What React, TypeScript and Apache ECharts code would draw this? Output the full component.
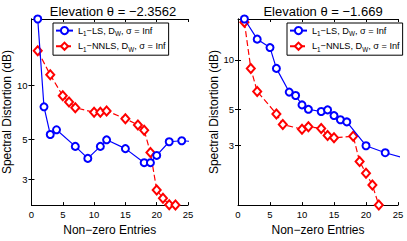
import React, { useEffect, useRef } from "react";
import * as echarts from "echarts";

// ---- Data (values in dB) ----
const titles = ["Elevation θ = −2.3562", "Elevation θ = −1.669"];
const seriesNames = ["L1-LS, DW, σ = Inf", "L1-NNLS, DW, σ = Inf"];

const leftLSx = [1, 2, 3, 4, 7, 9, 11, 12, 15, 18, 19, 20, 22, 24, 26];
const leftLSy = [23.3, 7.57, 5.31, 5.64, 4.56, 3.91, 4.56, 4.96, 4.43, 3.7, 3.7, 4.06, 4.84, 4.9, 4.85];
const leftNNx = [1, 3, 5, 6, 7, 10, 11, 12, 15, 17, 18, 19, 20, 21, 22, 23];
const leftNNy = [15.5, 11.4, 8.71, 8.05, 7.48, 7.05, 7.05, 7.18, 6.5, 6.0, 5.6, 4.22, 2.61, 2.35, 2.16, 2.15];

const rightLSx = [1, 3, 5, 6, 8, 9, 10, 11, 13, 14, 15, 16, 17, 20, 23, 26];
const rightLSy = [17.8, 13.4, 11.9, 8.87, 6.35, 6.05, 5.3, 4.98, 4.83, 4.94, 4.56, 4.3, 4.17, 2.98, 2.7, 2.5];
const rightNNx = [1, 2, 3, 6, 7, 10, 11, 13, 14, 15, 18, 19, 20, 21, 22];
const rightNNy = [17.0, 8.87, 6.41, 4.67, 4.02, 3.76, 3.9, 3.8, 3.44, 3.33, 3.41, 2.39, 2.02, 1.71, 1.29];

const xTicks = [0, 5, 10, 15, 20, 25];
const yTicks = [3, 5, 10];

const FONT = "Liberation Sans, Arial, Helvetica, sans-serif";

export default function App() {
  const ref = useRef<HTMLDivElement>(null);

  useEffect(() => {
    if (!ref.current) return;
    const chart = echarts.init(ref.current, undefined, { renderer: "svg" });

    const panels = [
      { lsx: leftLSx, lsy: leftLSy, nnx: leftNNx, nny: leftNNy },
      { lsx: rightLSx, lsy: rightLSy, nnx: rightNNx, nny: rightNNy },
    ];
    const gridLeft = [28, 238];
    const gridW = 160;
    const gridTop = 19;
    const gridH = 198;

    const lg = (v: number) => Math.log10(v);
    const pairs = (xs: number[], ys: number[]) => xs.map((x, i) => [x, lg(ys[i])]);
    const yTickVals = yTicks.map(lg);
    const xInterval = xTicks[1] - xTicks[0];

    const grids: any[] = [];
    const xAxes: any[] = [];
    const yAxes: any[] = [];
    const series: any[] = [];
    const titleArr: any[] = [];
    const legends: any[] = [];

    const axisLine = { show: true, lineStyle: { color: "#000", width: 1 } };

    panels.forEach((p, i) => {
      grids.push({ left: gridLeft[i], top: gridTop, width: gridW, height: gridH, containLabel: false });
      const inRange = [...p.lsy, ...p.nny];
      const ymin = lg(Math.min(...p.nny, ...p.lsy.filter((_, k) => p.lsx[k] <= 25)));
      const ymax = lg(Math.max(...inRange));
      xAxes.push({
        type: "value", gridIndex: i, min: xTicks[0], max: xTicks[xTicks.length - 1], interval: xInterval, position: "bottom",
        axisLine, splitLine: { show: false },
        axisTick: { show: true, inside: true, length: 3, lineStyle: { color: "#000" } },
        axisLabel: { show: true, color: "#000", fontSize: 9.5, fontFamily: FONT, margin: 4 },
        name: "Non−zero Entries", nameLocation: "middle", nameGap: 17,
        nameTextStyle: { color: "#000", fontSize: 12, fontFamily: FONT },
      });
      yAxes.push({
        type: "value", gridIndex: i, min: ymin, max: ymax, position: "left",
        axisLine, splitLine: { show: false },
        axisTick: { show: true, inside: true, length: 3, customValues: yTickVals, lineStyle: { color: "#000" } },
        axisLabel: {
          show: true, color: "#000", fontSize: 9.5, fontFamily: FONT, margin: 4,
          customValues: yTickVals,
          formatter: (v: number) => String(Math.round(Math.pow(10, v))),
        },
        name: "Spectral Distortion (dB)", nameLocation: "middle", nameGap: i === 0 ? 14 : 13,
        nameTextStyle: { color: "#000", fontSize: 12, fontFamily: FONT },
      });
      series.push({
        type: "line", name: seriesNames[0], xAxisIndex: i, yAxisIndex: i,
        data: pairs(p.lsx, p.lsy), symbol: "emptyCircle", symbolSize: 7,
        lineStyle: { color: "#0000ff", width: 1.2 },
        itemStyle: { color: "#0000ff", borderColor: "#0000ff", borderWidth: 1.2 },
        clip: true, z: 3,
      });
      series.push({
        type: "line", name: seriesNames[1], xAxisIndex: i, yAxisIndex: i,
        data: pairs(p.nnx, p.nny), symbol: "emptyDiamond", symbolSize: [8, 9],
        lineStyle: { color: "#ff0000", width: 1.2, type: [6, 3] },
        itemStyle: { color: "#ff0000", borderColor: "#ff0000", borderWidth: 1.2 },
        clip: true, z: 2,
      });
      titleArr.push({
        text: titles[i], left: gridLeft[i] + gridW / 2, top: 0, textAlign: "center",
        textStyle: { color: "#000", fontSize: 13, fontWeight: "normal", fontFamily: FONT },
      });
      legends.push({
        data: seriesNames, orient: "vertical",
        left: i === 0 ? 53 : 287, top: 23,
        backgroundColor: "#fff", borderColor: "#000", borderWidth: 1, borderRadius: 0,
        padding: [3, 3, 3, 2], itemGap: 5, itemWidth: 17, itemHeight: 9,
        selectedMode: false,
        formatter: (name: string) =>
          name === seriesNames[0]
            ? "{n|L}{s|1}{n|−LS, D}{s|W}{n|, σ = Inf}"
            : "{n|L}{s|1}{n|−NNLS, D}{s|W}{n|, σ = Inf}",
        textStyle: {
          color: "#000", fontSize: 9.2, fontFamily: FONT, padding: [0, 0, 0, 0],
          rich: {
            n: { fontSize: 9.2, fontFamily: FONT, color: "#000", lineHeight: 12, verticalAlign: "middle" },
            s: { fontSize: 6.3, fontFamily: FONT, color: "#000", lineHeight: 12, verticalAlign: "bottom", padding: [4, 0, 0, 0] },
          },
        },
      });
    });

    // mirror axes (top / right) for the box and inside ticks
    panels.forEach((_, i) => {
      xAxes.push({
        type: "value", gridIndex: i, min: xTicks[0], max: xTicks[xTicks.length - 1], interval: xInterval, position: "top",
        axisLine, splitLine: { show: false },
        axisTick: { show: true, inside: true, length: 3, lineStyle: { color: "#000" } },
        axisLabel: { show: false },
      });
      yAxes.push({
        type: "value", gridIndex: i, min: yAxes[i].min, max: yAxes[i].max, position: "right",
        axisLine, splitLine: { show: false },
        axisTick: { show: true, inside: true, length: 3, customValues: yTickVals, lineStyle: { color: "#000" } },
        axisLabel: { show: false, customValues: yTickVals },
      });
    });

    chart.setOption({
      animation: false,
      backgroundColor: "#fff",
      title: titleArr,
      legend: legends,
      grid: grids,
      xAxis: xAxes,
      yAxis: yAxes,
      series,
    });

    return () => chart.dispose();
  }, []);

  return (
    <div
      ref={ref}
      style={{ position: "fixed", left: 0, top: 0, width: 407, height: 241, background: "#fff" }}
    />
  );
}
